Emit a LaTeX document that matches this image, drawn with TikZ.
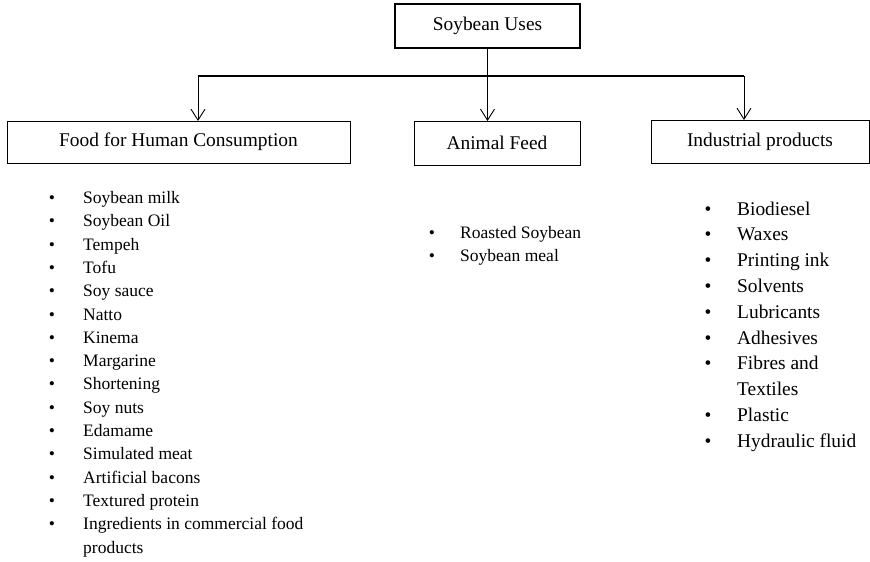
\documentclass[tikz,border=0pt]{standalone}
\usepackage{fontspec}
\setmainfont{Liberation Serif}
\usepackage{tikz}
\usetikzlibrary{arrows.meta, positioning, calc}

\begin{document}
\begin{tikzpicture}[x=1pt, y=-1pt,
    box/.style={draw, line width=0.8pt, outer sep=0pt, inner sep=0pt,
      font=\fontsize{19.4}{23}\selectfont},
    arr/.style={line width=0.9pt, -{Straight Barb[length=11pt,width=14pt]}},
    food item/.style={inner sep=0pt, anchor=base west, font=\fontsize{17.5}{21}\selectfont},
    ind item/.style={inner sep=0pt, anchor=base west, font=\fontsize{19.4}{23}\selectfont},
    bul/.style={inner sep=0pt, anchor=base}]
  \useasboundingbox (0,0) rectangle (870,562);

  % Root and the three groups
  \node[box, line width=1.6pt, minimum width=185pt, minimum height=44pt] (uses) at (487.5,26) {Soybean Uses};
  \node[box, minimum width=343pt, minimum height=42pt] (food) at (178.5,142) {Food for Human Consumption};
  \node[box, minimum width=166pt, minimum height=44pt] (feed) at (497,143) {Animal Feed};
  \node[box, minimum width=218pt, minimum height=43pt] (ind) at (760,141.5) {Industrial products};

  % Branch bar
  \coordinate (barL) at (198,76);
  \coordinate (barM) at (uses.south |- barL);
  \coordinate (barR) at (744,76);

  \draw[line width=1.8pt] (uses.south) -- (barM);
  \draw[line width=2.4pt] (barL) -- (barR);
  \draw[arr] (barL) -- (barL |- food.north);
  \draw[arr] (barM) -- (barM |- feed.north);
  \draw[arr] (barR) -- (barR |- ind.north);

  % Food for human consumption
  \foreach \b/\t [count=\i from 0] in {1/Soybean milk, 1/Soybean Oil, 1/Tempeh, 1/Tofu,
      1/Soy sauce, 1/Natto, 1/Kinema, 1/Margarine, 1/Shortening, 1/Soy nuts,
      1/Edamame, 1/Simulated meat, 1/Artificial bacons, 1/Textured protein,
      1/Ingredients in commercial food, 0/products} {
    \node[food item] (food-\i) at (83,203.5+23.3*\i) {\t};
    \ifnum\b=1 \node[bul, font=\fontsize{17.5}{21}\selectfont] (food-b\i) at (52,203.5+23.3*\i) {\textbullet};\fi
  }

  % Animal feed
  \foreach \t [count=\i from 0] in {Roasted Soybean, Soybean meal} {
    \node[food item] (feed-\i) at (460,238+23.3*\i) {\t};
    \node[bul, font=\fontsize{17.5}{21}\selectfont] (feed-b\i) at (432,238+23.3*\i) {\textbullet};
  }

  % Industrial products
  \foreach \b/\t [count=\i from 0] in {1/Biodiesel, 1/Waxes, 1/Printing ink, 1/Solvents,
      1/Lubricants, 1/Adhesives, 1/Fibres and, 0/Textiles, 1/Plastic, 1/Hydraulic fluid} {
    \node[ind item] (ind-\i) at (737,215+25.8*\i) {\t};
    \ifnum\b=1 \node[bul, font=\fontsize{19.4}{23}\selectfont] (ind-b\i) at (708,215+25.8*\i) {\textbullet};\fi
  }
\end{tikzpicture}
\end{document}
